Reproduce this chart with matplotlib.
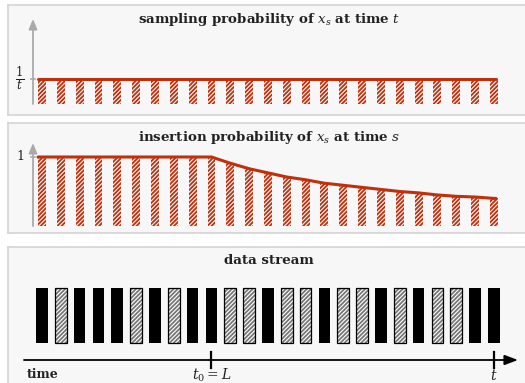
import matplotlib
matplotlib.use("Agg")
import matplotlib.pyplot as plt

plt.rcParams['font.family'] = ['DejaVu Serif']
plt.rcParams['mathtext.fontset'] = 'dejavuserif'
plt.rcParams['hatch.linewidth'] = 1.3

# data
steps = list(range(1, 26))
sample_prob = [0.04] * 25  # 1/t with t = 25
insert_prob = [1.0, 1.0, 1.0, 1.0, 1.0, 1.0, 1.0, 1.0, 1.0, 1.0,
               0.91, 0.83, 0.77, 0.71, 0.67, 0.62, 0.59, 0.56, 0.53, 0.50,
               0.48, 0.45, 0.43, 0.42, 0.40]
# 1 = kept in sample (black), 0 = not kept (hatched)
stream_kept = [1, 0, 1, 1, 1, 0, 1, 0, 1, 1, 0, 0, 1, 0, 0, 1, 0, 0, 1, 0,
               1, 0, 0, 1, 1]
titles = ["sampling probability of $x_s$ at time $t$",
          "insertion probability of $x_s$ at time $s$",
          "data stream"]

W, H = 525, 383
RED = '#c1300c'
GRAY = '#aaaaaa'
TXT = '#222222'
x0_px, dx_px = 42, 18.83

fig = plt.figure(figsize=(W / 100, H / 100), dpi=100)


def panel(top, bottom):
    ax = fig.add_axes([8 / W, 1 - bottom / H, (W + 4 - 8) / W, (bottom - top) / H])
    ax.set_facecolor('#f7f7f7')
    for s in ax.spines.values():
        s.set_color('#d4d4d4')
        s.set_linewidth(1.2)
    ax.set_xticks([])
    ax.set_yticks([])
    ax.set_xlim(1 - (x0_px - 8) / dx_px, 1 + (W + 4 - x0_px) / dx_px)
    return ax


def px_x(ax, px):
    lo, hi = ax.get_xlim()
    return lo + (px - 8) / (W + 4 - 8) * (hi - lo)


def y_axis_arrow(ax, y0, y1):
    xa = px_x(ax, 33)
    ax.annotate('', xy=(xa, y1), xytext=(xa, y0),
                arrowprops=dict(arrowstyle='-|>,head_width=0.25,head_length=0.6',
                                color=GRAY, lw=1.3, shrinkA=0, shrinkB=0))


def prob_panel(ax, vals, ymax_val, tick_val, tick_label, fs):
    w = 0.42
    ax.bar(steps, vals, width=w, color='none', edgecolor=RED, hatch='////////',
           linewidth=0)
    xs = [steps[0] - w / 2] + steps + [steps[-1] + w / 4]
    ys = [vals[0]] + vals + [vals[-1]]
    ax.plot(xs, ys, color=RED, lw=2.2, solid_capstyle='round', solid_joinstyle='round')
    y_axis_arrow(ax, 0, ymax_val)
    xa = px_x(ax, 33)
    ax.plot([xa - 0.12, xa + 0.12], [tick_val, tick_val], color=GRAY, lw=1.2)
    ax.text(px_x(ax, 20), tick_val, tick_label, ha='center', va='center',
            fontsize=fs, color=TXT)


# top panel: pixels 5..115, bars 0 at px 104, 1/t at px 79
ax1 = panel(5, 115)
s1 = 0.04 / 25
ax1.set_ylim(-(115 - 104) * s1, (104 - 5) * s1)
prob_panel(ax1, sample_prob, (104 - 19) * s1, 0.04, r'$\frac{1}{t}$', 12)

# middle panel: pixels 123..233, 0 at px 226, 1 at px 157
ax2 = panel(123, 233)
s2 = 1 / 69
ax2.set_ylim(-(233 - 226) * s2, (226 - 123) * s2)
prob_panel(ax2, insert_prob, (226 - 143) * s2, 1.0, '1', 9)

# bottom panel: pixels 247..388, bars 0 at px 343, 1 at px 288
ax3 = panel(247, 388)
s3 = 1 / 55
ax3.set_ylim(-(388 - 343) * s3, (343 - 247) * s3)
bw = 0.62
for i, k in zip(steps, stream_kept):
    if k:
        ax3.bar(i, 1, width=bw, color='black', linewidth=0)
    else:
        ax3.bar(i, 1, width=bw, color='white', edgecolor='#777777', hatch='////////',
                linewidth=0)
        ax3.bar(i, 1, width=bw, color='none', edgecolor='black', linewidth=0.9)

ya = -(360 - 343) * s3
ax3.annotate('', xy=(px_x(ax3, 518), ya), xytext=(px_x(ax3, 24), ya),
             arrowprops=dict(arrowstyle='-|>,head_width=0.3,head_length=0.8',
                             color='black', lw=1.3, shrinkA=0, shrinkB=0))
for i in (10, 25):
    ax3.plot([i, i], [ya - 8 * s3, ya + 8 * s3], color='black', lw=1.6)
yl = -(375 - 343) * s3
ax3.text(px_x(ax3, 27), yl, 'time', ha='left', va='center', fontsize=9,
         fontweight='bold', color=TXT)
ax3.text(10, yl, '$t_0 = L$', ha='center', va='center', fontsize=10, color=TXT)
ax3.text(25, yl, '$t$', ha='center', va='center', fontsize=10, color=TXT)

# titles
for (y, t) in zip((19, 138, 260), titles):
    fig.text(269 / W, 1 - y / H, t, ha='center', va='center', fontsize=9.6,
             fontweight='bold', color=TXT)

fig.savefig('out.png', dpi=100, facecolor='white')
